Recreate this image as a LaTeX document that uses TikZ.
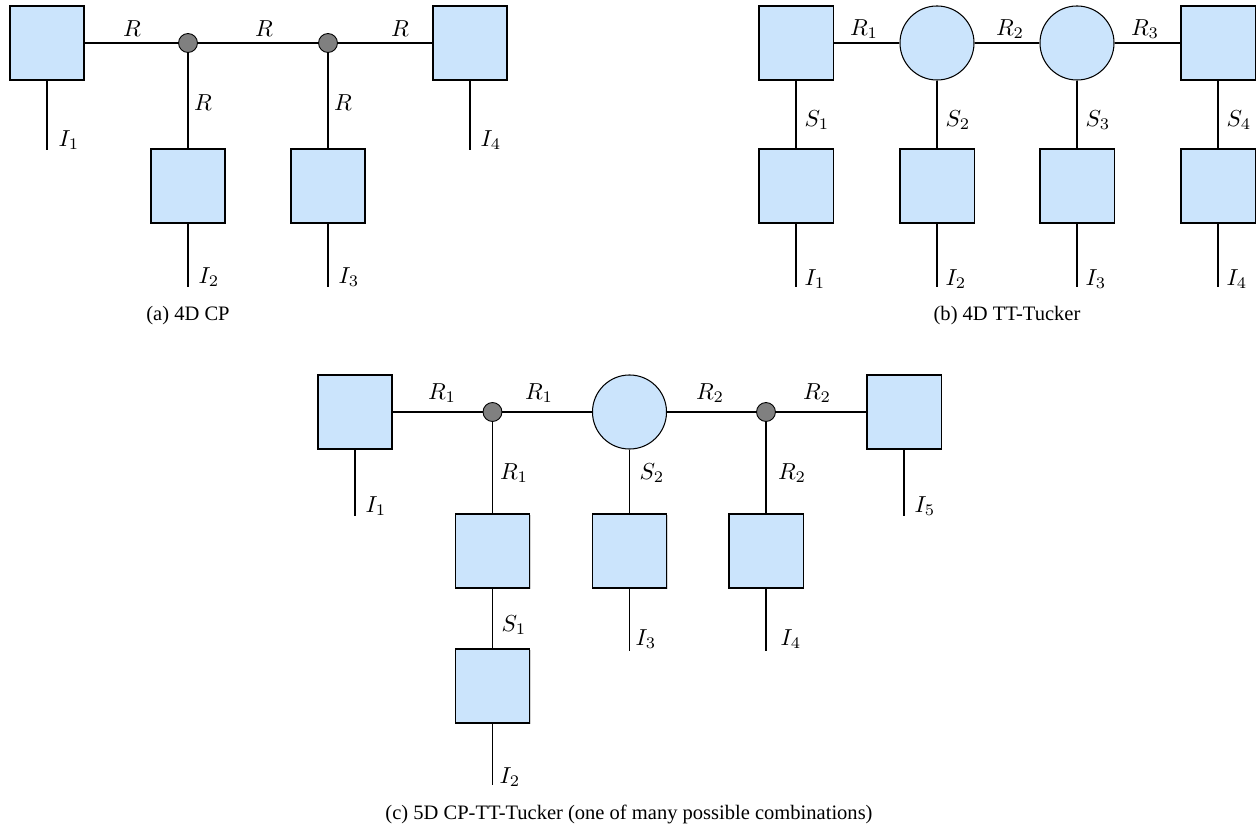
\documentclass[tikz,border=0pt]{standalone}
\usepackage{graphicx}
\usepackage{fontspec}
\usetikzlibrary{shadows}
\newfontfamily\capfont{Liberation Serif}
\newcommand{\ml}[1]{\scalebox{1.32}{$#1$}}
\begin{document}
\begin{tikzpicture}[x=0.57pt,y=-0.57pt,
  tbox/.style={draw=black,line width=0.6pt,fill=boxblue,minimum width=42.2pt,minimum height=42.2pt,inner sep=0pt,drop shadow={shadow xshift=0.6pt,shadow yshift=-0.6pt,opacity=0.35}},
  tcirc/.style={draw=black,line width=0.6pt,fill=boxblue,circle,minimum size=42.2pt,inner sep=0pt},
  tdot/.style={draw=black,line width=0.5pt,fill=dotgray,circle,minimum size=10.8pt,inner sep=0pt},
  conn/.style={line width=0.6pt},
  lab/.style={inner sep=0pt},
  captext/.style={inner sep=0pt,font=\capfont\fontsize{11.7}{14}\selectfont}]
\definecolor{boxblue}{RGB}{203,228,252}
\definecolor{dotgray}{RGB}{128,128,128}
\useasboundingbox (0,0) rectangle (1257,832);
% ---------- (a) ----------
\node[tbox] (a1) at (47,43) {};
\node[tdot] (ad1) at (188,43) {};
\node[tdot] (ad2) at (328,43) {};
\node[tbox] (a4) at (470,43) {};
\node[tbox] (a2) at (188,186) {};
\node[tbox] (a3) at (328,186) {};
\coordinate (ae1) at (47,150);
\coordinate (ae2) at (188,287);
\coordinate (ae3) at (328,287);
\coordinate (ae4) at (470,150);
\draw[conn] (a1) -- (ad1) -- (ad2) -- (a4);
\draw[conn] (ad1) -- (a2);
\draw[conn] (ad2) -- (a3);
\draw[conn] (a1) -- (ae1);
\draw[conn] (a2) -- (ae2);
\draw[conn] (a3) -- (ae3);
\draw[conn] (a4) -- (ae4);
\node[lab] (la1) at (132,29) {\ml{R}};
\node[lab] (la2) at (264,29) {\ml{R}};
\node[lab] (la3) at (400,29) {\ml{R}};
\node[lab] (la4) at (203,103) {\ml{R}};
\node[lab] (la5) at (343,103) {\ml{R}};
\node[lab] (la6) at (69,140) {\ml{I_1}};
\node[lab] (la7) at (209,277) {\ml{I_2}};
\node[lab] (la8) at (349,277) {\ml{I_3}};
\node[lab] (la9) at (491,140) {\ml{I_4}};
\node[captext] (capa) at (188,316) {(a) 4D CP};
% ---------- (b) ----------
\node[tbox] (b1) at (796,43) {};
\node[tcirc] (b2) at (937,43) {};
\node[tcirc] (b3) at (1077,43) {};
\node[tbox] (b4) at (1218,43) {};
\node[tbox] (bl1) at (796,186) {};
\node[tbox] (bl2) at (937,186) {};
\node[tbox] (bl3) at (1077,186) {};
\node[tbox] (bl4) at (1218,186) {};
\foreach \x/\n in {796/1,937/2,1077/3,1218/4} {\coordinate (be\n) at (\x,287);}
\draw[conn] (b1) -- (b2) -- (b3) -- (b4);
\foreach \n in {1,2,3,4} {\draw[conn] (b\n) -- (bl\n); \draw[conn] (bl\n) -- (be\n);}
\node[lab] (lb1) at (864,29) {\ml{R_1}};
\node[lab] (lb2) at (1010,29) {\ml{R_2}};
\node[lab] (lb3) at (1145,29) {\ml{R_3}};
\node[lab] (lb4) at (817,120) {\ml{S_1}};
\node[lab] (lb5) at (958,120) {\ml{S_2}};
\node[lab] (lb6) at (1098,120) {\ml{S_3}};
\node[lab] (lb7) at (1239,120) {\ml{S_4}};
\node[lab] (lb8) at (815,279) {\ml{I_1}};
\node[lab] (lb9) at (956,279) {\ml{I_2}};
\node[lab] (lb10) at (1096,279) {\ml{I_3}};
\node[lab] (lb11) at (1237,279) {\ml{I_4}};
\node[captext] (capb) at (1007,316) {(b) 4D TT-Tucker};
% ---------- (c) ----------
\node[tbox] (c1) at (355,412) {};
\node[tdot] (cd1) at (492.5,412) {};
\node[tcirc] (cc) at (629.5,412) {};
\node[tdot] (cd2) at (766,412) {};
\node[tbox] (c5) at (904,412) {};
\node[tbox] (cl1) at (492.5,551) {};
\node[tbox] (cl2) at (629.5,551) {};
\node[tbox] (cl3) at (766,551) {};
\node[tbox] (cb) at (492.5,686) {};
\coordinate (ce1) at (355,516);
\coordinate (ce2) at (492.5,785);
\coordinate (ce3) at (629.5,651);
\coordinate (ce4) at (766,651);
\coordinate (ce5) at (904,516);
\draw[conn] (c1) -- (cd1) -- (cc) -- (cd2) -- (c5);
\draw[conn] (cd1) -- (cl1);
\draw[conn] (cc) -- (cl2);
\draw[conn] (cd2) -- (cl3);
\draw[conn] (cl1) -- (cb);
\draw[conn] (c1) -- (ce1);
\draw[conn] (cb) -- (ce2);
\draw[conn] (cl2) -- (ce3);
\draw[conn] (cl3) -- (ce4);
\draw[conn] (c5) -- (ce5);
\node[lab] (lc1) at (442,393) {\ml{R_1}};
\node[lab] (lc2) at (539,393) {\ml{R_1}};
\node[lab] (lc3) at (710,393) {\ml{R_2}};
\node[lab] (lc4) at (817,393) {\ml{R_2}};
\node[lab] (lc5) at (514,473) {\ml{R_1}};
\node[lab] (lc6) at (652,473) {\ml{S_2}};
\node[lab] (lc7) at (792,473) {\ml{R_2}};
\node[lab] (lc8) at (376,506) {\ml{I_1}};
\node[lab] (lc9) at (514,625) {\ml{S_1}};
\node[lab] (lc10) at (646,639) {\ml{I_3}};
\node[lab] (lc11) at (791,639) {\ml{I_4}};
\node[lab] (lc12) at (510,777) {\ml{I_2}};
\node[lab] (lc13) at (925,506) {\ml{I_5}};
\node[captext] (capc) at (629,814) {(c) 5D CP-TT-Tucker (one of many possible combinations)};
\end{tikzpicture}
\end{document}
